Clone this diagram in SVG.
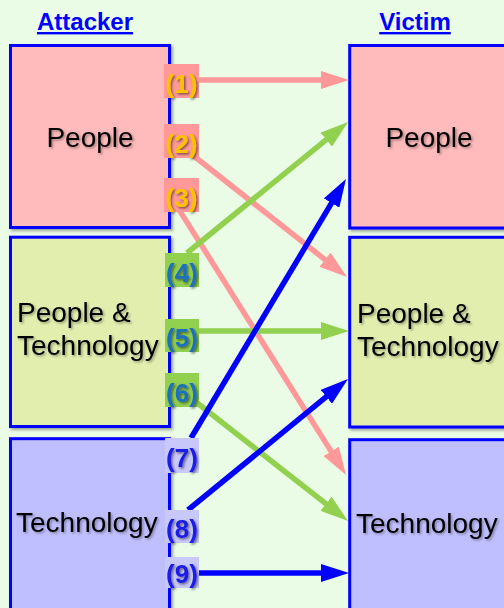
<svg xmlns="http://www.w3.org/2000/svg" width="504" height="608" viewBox="0 0 504 608">
  <defs>
    <filter id="boxShadow" x="-10%" y="-10%" width="130%" height="130%">
      <feDropShadow dx="2" dy="2" stdDeviation="1.5" flood-color="#000" flood-opacity="0.35"/>
    </filter>
    <filter id="textShadow" x="-20%" y="-30%" width="150%" height="170%">
      <feDropShadow dx="1.5" dy="1.5" stdDeviation="1" flood-color="#000" flood-opacity="0.35"/>
    </filter>
    <filter id="numShadow" x="-20%" y="-30%" width="150%" height="170%">
      <feDropShadow dx="1.5" dy="1.5" stdDeviation="0.8" flood-color="#000" flood-opacity="0.5"/>
    </filter>
    <marker id="headPink" markerUnits="userSpaceOnUse" markerWidth="28" markerHeight="18" refX="8" refY="9" orient="auto">
      <path d="M0,0 L28,9 L0,18 Z" fill="#FF9999"/>
    </marker>
    <marker id="headGreen" markerUnits="userSpaceOnUse" markerWidth="28" markerHeight="18" refX="8" refY="9" orient="auto">
      <path d="M0,0 L28,9 L0,18 Z" fill="#92D050"/>
    </marker>
    <marker id="headBlue" markerUnits="userSpaceOnUse" markerWidth="28" markerHeight="18" refX="8" refY="9" orient="auto">
      <path d="M0,0 L28,9 L0,18 Z" fill="#0000FF"/>
    </marker>
    <style>
      .box { stroke: #0000FF; stroke-width: 3; filter: url(#boxShadow); }
      .people { fill: #FFBBBB; }
      .pt { fill: #E2EEAE; }
      .tech { fill: #BFBFFF; }
      .lbl { font-family: "Liberation Sans", Arial, sans-serif; font-size: 28px; fill: #000; filter: url(#textShadow); }
      .title { font-family: "Liberation Sans", Arial, sans-serif; font-size: 24px; font-weight: bold; fill: #0000FF; text-decoration: underline; text-anchor: middle; }
      .ln { fill: none; stroke-width: 5.5; }
      .pink { stroke: #FF9999; marker-end: url(#headPink); }
      .green { stroke: #92D050; marker-end: url(#headGreen); }
      .blue { stroke: #0000FF; marker-end: url(#headBlue); }
      .num { font-family: "Liberation Sans", Arial, sans-serif; font-size: 26px; font-weight: bold; text-anchor: middle; filter: url(#numShadow); }
      .nP { fill: #FFC000; }
      .nG { fill: #1F6FC0; }
      .nB { fill: #1A1AE8; }
      .bP { fill: #FF9999; }
      .bG { fill: #92D050; }
      .bB { fill: #C8C8FA; }
    </style>
  </defs>

  <rect x="0" y="0" width="504" height="608" fill="#EBFCE6"/>

  <text class="title" x="85" y="30">Attacker</text>
  <text class="title" x="415" y="30">Victim</text>

  <!-- attacker side -->
  <g id="attacker-people">
    <rect class="box people" x="10.5" y="45.5" width="159" height="182"/>
    <text class="lbl" x="90" y="147" text-anchor="middle">People</text>
  </g>
  <g id="attacker-people-tech">
    <rect class="box pt" x="10.5" y="237.2" width="159" height="189.3"/>
    <text class="lbl" x="17" y="322">People &amp;</text>
    <text class="lbl" x="17" y="355">Technology</text>
  </g>
  <g id="attacker-tech">
    <rect class="box tech" x="10.5" y="438.7" width="159" height="180"/>
    <text class="lbl" x="16" y="532">Technology</text>
  </g>

  <!-- victim side -->
  <g id="victim-people">
    <rect class="box people" x="349.7" y="45.5" width="170" height="182.5"/>
    <text class="lbl" x="429" y="147" text-anchor="middle">People</text>
  </g>
  <g id="victim-people-tech">
    <rect class="box pt" x="349.7" y="237.3" width="170" height="189.7"/>
    <text class="lbl" x="357" y="323">People &amp;</text>
    <text class="lbl" x="357" y="356">Technology</text>
  </g>
  <g id="victim-tech">
    <rect class="box tech" x="349.7" y="439.7" width="170" height="180"/>
    <text class="lbl" x="356" y="533">Technology</text>
  </g>

  <!-- attack paths -->
  <g id="connectors">
    <line class="ln pink" x1="199" y1="80" x2="329" y2="80"/>
    <line class="ln pink" x1="190" y1="153" x2="331.3" y2="264.6"/>
    <line class="ln pink" x1="178" y1="208" x2="335.4" y2="458.1"/>
    <line class="ln green" x1="187" y1="253" x2="332.5" y2="134.6"/>
    <line class="ln green" x1="199" y1="331" x2="329" y2="331"/>
    <line class="ln green" x1="196" y1="402" x2="332.3" y2="508.7"/>
    <line class="ln blue" x1="191" y1="438" x2="335.7" y2="196.2"/>
    <line class="ln blue" x1="188" y1="510" x2="332.5" y2="391.7"/>
    <line class="ln blue" x1="199" y1="573" x2="329" y2="573"/>
  </g>

  <!-- path numbers -->
  <g id="labels">
    <rect class="bP" x="164" y="64" width="35" height="34"/>
    <text class="num nP" x="181.5" y="92.5">(1)</text>
    <rect class="bP" x="164" y="124" width="35" height="34"/>
    <text class="num nP" x="181.5" y="152.5">(2)</text>
    <rect class="bP" x="164" y="178" width="35" height="34"/>
    <text class="num nP" x="181.5" y="206.5">(3)</text>

    <rect class="bG" x="165" y="253" width="34" height="34"/>
    <text class="num nG" x="182" y="281.5">(4)</text>
    <rect class="bG" x="165" y="319" width="34" height="33"/>
    <text class="num nG" x="182" y="347">(5)</text>
    <rect class="bG" x="165" y="373" width="34" height="34"/>
    <text class="num nG" x="182" y="401.5">(6)</text>

    <rect class="bB" x="165" y="438" width="34" height="35"/>
    <text class="num nB" x="182" y="466.5">(7)</text>
    <rect class="bB" x="165" y="510" width="34" height="33"/>
    <text class="num nB" x="182" y="537.5">(8)</text>
    <rect class="bB" x="165" y="557" width="34" height="31"/>
    <text class="num nB" x="182" y="583">(9)</text>
  </g>
</svg>
